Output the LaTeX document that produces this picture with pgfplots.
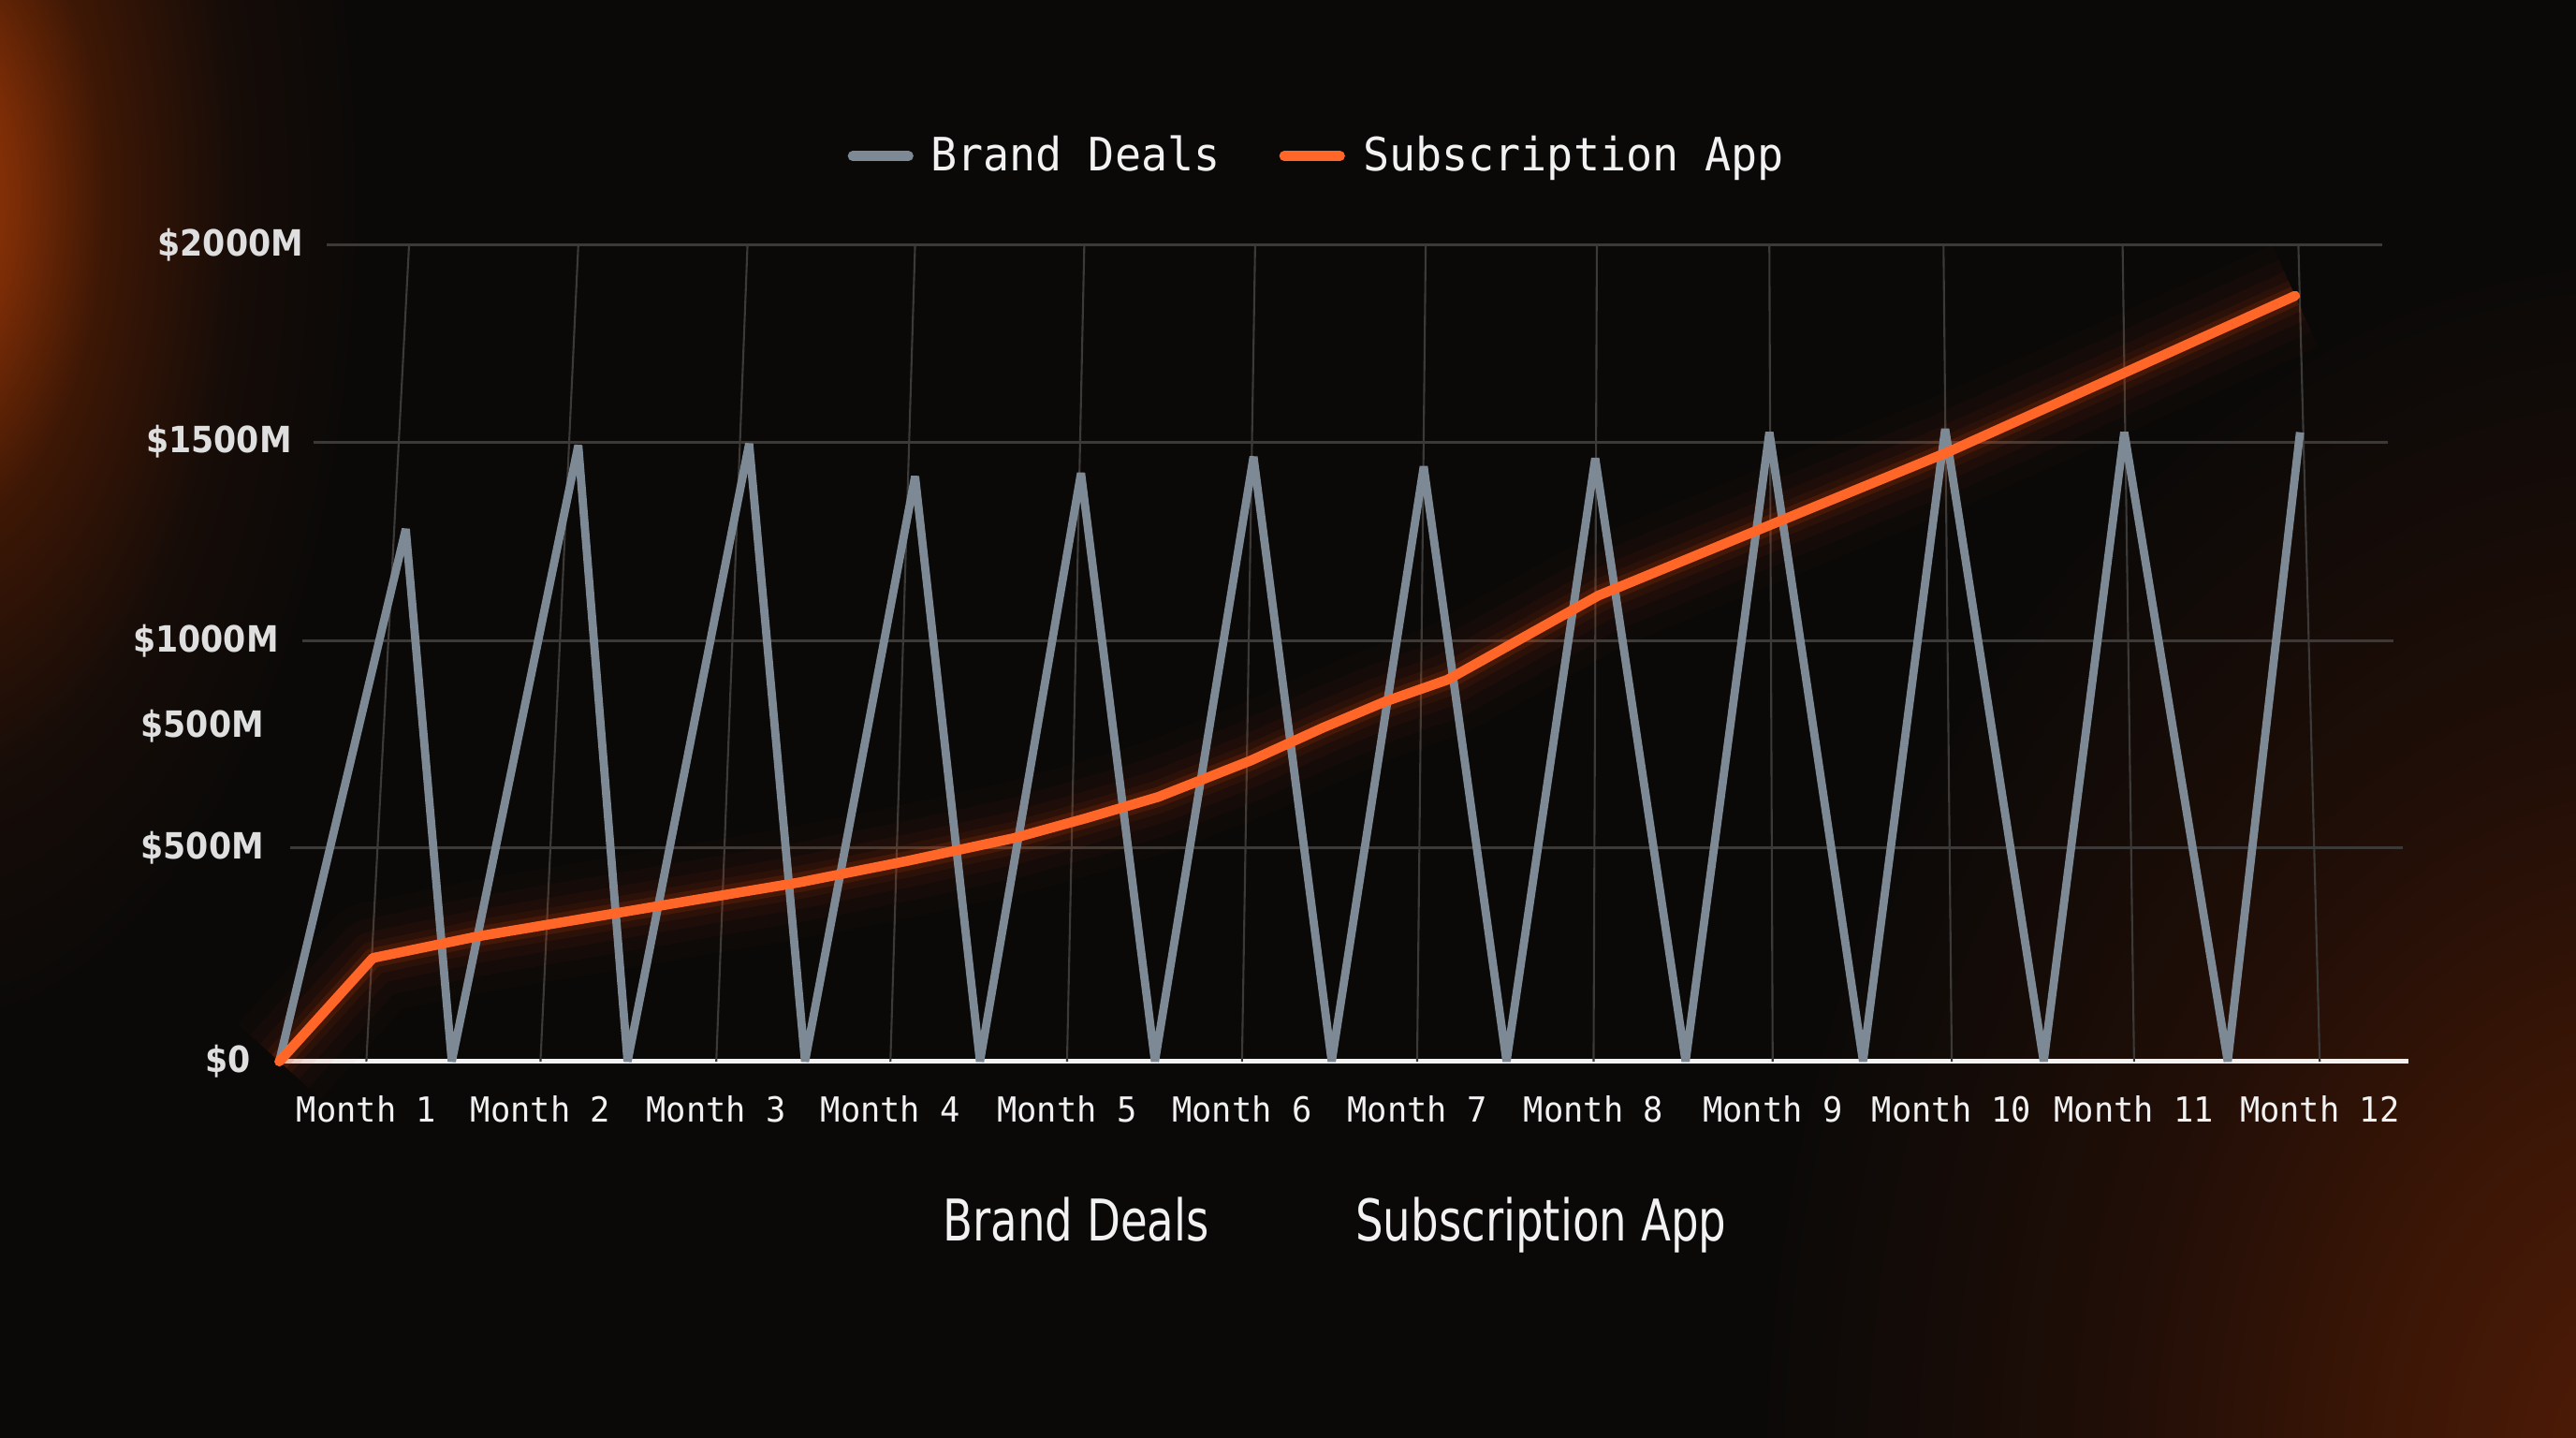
\documentclass[border=0pt]{standalone}
\usepackage{fontspec}
\usepackage{pgfplots}
\usepackage{pgfplotstable}
\pgfplotsset{compat=1.18}
\newfontfamily\legfont[FakeStretch=0.95]{DejaVu Sans Mono}
\newfontfamily\tickfont[FakeStretch=0.96]{DejaVu Sans Mono}
\newfontfamily\yfont[FakeStretch=0.9]{DejaVu Sans}
\newfontfamily\botfont[FakeStretch=0.76]{DejaVu Sans}
\definecolor{bgc}{HTML}{0A0908}
\definecolor{slate}{HTML}{7D8A96}
\definecolor{orng}{HTML}{FF6628}
\definecolor{glowc}{HTML}{D8400C}
\definecolor{gridc}{HTML}{3C3A38}
\definecolor{txt}{HTML}{F2F2F2}
\definecolor{gA}{HTML}{A34008}
\definecolor{gB}{HTML}{7A2C06}
\definecolor{gC}{HTML}{3D1705}
\definecolor{gD}{HTML}{160C08}
\definecolor{rA}{HTML}{521C06}
\definecolor{rB}{HTML}{3C1606}
\definecolor{rC}{HTML}{200E07}
\pgfdeclareradialshading{leftglow}{\pgfpoint{0bp}{0bp}}{color(0bp)=(gA); color(5bp)=(gB); color(10bp)=(gC); color(17.5bp)=(gD); color(25bp)=(bgc); color(50bp)=(bgc)}
\pgfdeclareradialshading{rightglow}{\pgfpoint{0bp}{0bp}}{color(0bp)=(rA); color(7.5bp)=(rB); color(15bp)=(rC); color(25bp)=(bgc); color(50bp)=(bgc)}

\pgfplotstableread{
x y
170 0
227 253.5
290 305.8
355.7 350.1
421 394.4
486.6 438.6
552 490.9
617.4 547.3
661 595.6
705 647.9
761 736.4
805 816.9
843 881.3
881 934.8
973 1141.2
1069 1299.8
1186 1493
1290.6 1682.1
1397 1875.2
}\subdata

\pgfplotstableread{
x y
170 0
247 1304
275 0
352 1509
382 0
456 1513
490 0
557 1433
596.5 0
658 1441
703 0
763 1481
810.6 0
866.6 1457
917 0
971 1477
1026 0
1077 1541
1134 0
1184 1549
1244 0
1293 1541
1356 0
1400 1541
}\branddata

\begin{document}
\begin{tikzpicture}
\fill[bgc] (0,0) rectangle (784pt,437.5pt);
\begin{scope}
\clip (0,0) rectangle (784pt,437.5pt);
\shade[shading=leftglow] (-22pt,377.5pt) ellipse (135pt and 260pt);
\shade[shading=rightglow] (810pt,-12.5pt) ellipse (280pt and 380pt);
\end{scope}
\begin{axis}[
  at={(85pt,114.5pt)}, anchor=south west,
  scale only axis, width=648pt, height=248.5pt,
  xmin=170, xmax=1466, ymin=0, ymax=2000,
  clip=false,
  axis x line=bottom, axis y line=left,
  x axis line style={draw=txt, line width=1.5pt, -},
  y axis line style={draw=none},
  major tick length=0pt,
  xtick={223,329,436,542,649.5,756,862.6,970,1079,1188,1299,1412},
  xticklabels={Month 1,Month 2,Month 3,Month 4,Month 5,Month 6,Month 7,Month 8,Month 9,Month 10,Month 11,Month 12},
  xticklabel style={font=\tickfont\fontsize{10.5pt}{12pt}\selectfont, text=txt, anchor=base, yshift=-18.5pt, inner sep=0pt},
  ytick={0,523.1,1030.2,1517.1,2000},
  yticklabels={{\$0\kern-1.5pt},{\$500M\kern-5.5pt},{\$1000M\kern-10pt},{\$1500M\kern-14pt},{\$2000M\kern-17.5pt}},
  extra y ticks={820.9},
  extra y tick labels={{\$500M\kern-5.5pt}},
  yticklabel style={font=\yfont\bfseries\fontsize{11pt}{13pt}\selectfont, text=txt!92!black, anchor=east, inner sep=0pt, xshift=-10pt},
  legend columns=2,
  legend style={draw=none, fill=none, text=txt, font=\legfont\fontsize{14pt}{16pt}\selectfont,
    at={(rel axis cs:0.4884,1.1087)}, anchor=center,
    /tikz/every even column/.append style={column sep=16pt}},
  legend image code/.code={\draw[#1, line width=3pt, line cap=round] (1.5pt,0pt) -- (18.5pt,0pt); \path (22pt,0pt);},
]
% gridlines
\addplot[gridc, line width=0.6pt, unbounded coords=jump, forget plot] coordinates {
(223,0) (249,2000) (nan,nan)
(329,0) (352,2000) (nan,nan)
(436,0) (455,2000) (nan,nan)
(542,0) (557,2000) (nan,nan)
(649.5,0) (660,2000) (nan,nan)
(756,0) (764,2000) (nan,nan)
(862.6,0) (867.8,2000) (nan,nan)
(970,0) (972,2000) (nan,nan)
(1079,0) (1077,2000) (nan,nan)
(1188,0) (1183,2000) (nan,nan)
(1299,0) (1292,2000) (nan,nan)
(1412,0) (1399,2000)
};
\addplot[gridc, line width=0.8pt, unbounded coords=jump, forget plot] coordinates {
(199,2000) (1450,2000) (nan,nan)
(191,1517.1) (1453.5,1517.1) (nan,nan)
(184,1030.2) (1457,1030.2) (nan,nan)
(176.6,523.1) (1462.6,523.1)
};
% glow
\addplot[glowc, opacity=0.025, line width=34pt, line join=round, forget plot] table[x=x,y=y] {\subdata};
\addplot[glowc, opacity=0.035, line width=24pt, line join=round, forget plot] table[x=x,y=y] {\subdata};
\addplot[glowc, opacity=0.05, line width=16pt, line join=round, forget plot] table[x=x,y=y] {\subdata};
\addplot[glowc, opacity=0.08, line width=10pt, line join=round, forget plot] table[x=x,y=y] {\subdata};
\addplot[glowc, opacity=0.15, line width=6pt, line join=round, forget plot] table[x=x,y=y] {\subdata};
% series
\addplot[slate, line width=2.5pt, line join=bevel] table[x=x,y=y] {\branddata};
\addlegendentry{Brand Deals}
\addplot[orng, line width=3pt, line join=round, line cap=round] table[x=x,y=y] {\subdata};
\addlegendentry{Subscription App}
\end{axis}
\node[font=\botfont\fontsize{17.5pt}{20pt}\selectfont, text=txt, anchor=base] at (327.5pt,60pt) {Brand Deals};
\node[font=\botfont\fontsize{17.5pt}{20pt}\selectfont, text=txt, anchor=base] at (469pt,60pt) {Subscription App};
\pgfresetboundingbox
\path[use as bounding box] (0,0) rectangle (784pt,437.5pt);
\end{tikzpicture}
\end{document}
